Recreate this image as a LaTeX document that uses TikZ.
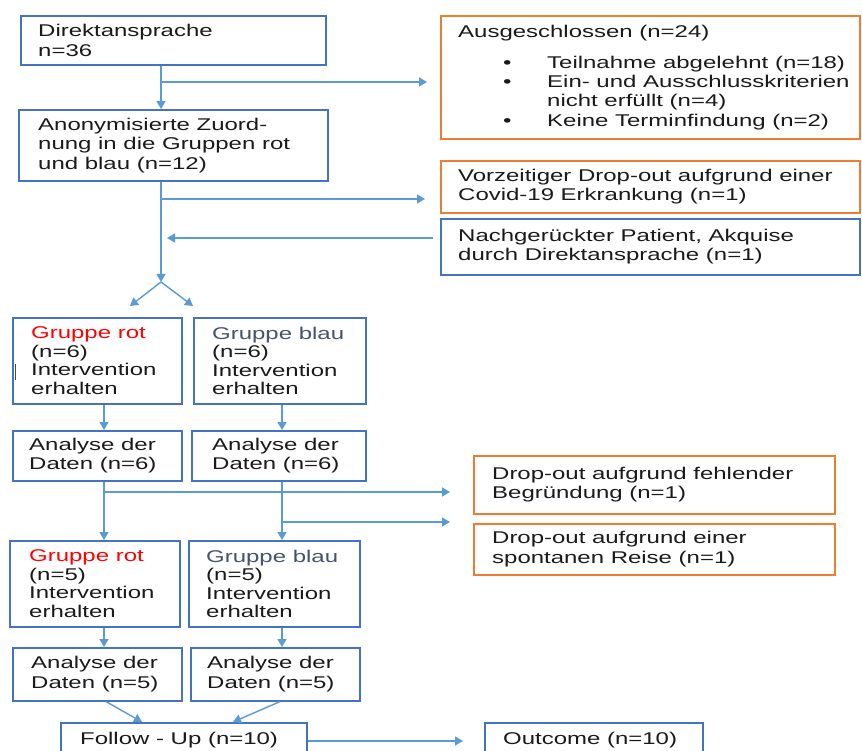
\documentclass[tikz,border=0pt]{standalone}
\usepackage{fontspec}
\setmainfont{Liberation Sans}[FakeStretch=1.41]
\usetikzlibrary{arrows.meta}
\definecolor{boxblue}{HTML}{4472C4}
\definecolor{lineblue}{HTML}{5B9BD5}
\definecolor{boxorange}{HTML}{ED7D31}
\definecolor{txt}{HTML}{1A1A1A}
\definecolor{grpred}{HTML}{FF0000}
\definecolor{grpblue}{HTML}{44546A}
\begin{document}
\begin{tikzpicture}[x=1pt,y=-1pt,
  bbox/.style={draw=boxblue,line width=1.6pt,anchor=north west,inner sep=0pt},
  obox/.style={draw=boxorange,line width=1.6pt,anchor=north west,inner sep=0pt},
  txtnode/.style={anchor=west,align=left,inner sep=0pt,text=txt,font=\fontsize{17}{19.5}\selectfont},
  conn/.style={draw=lineblue,line width=1.4pt},
  arr/.style={conn,-{Triangle[length=8pt,width=9pt]}}]
\useasboundingbox (0,0) rectangle (862,751);
\fill[white] (0,0) rectangle (862,751);

% boxes
\node[bbox,minimum width=305pt,minimum height=49pt] (dir) at (20,15) {};
\node[bbox,minimum width=309pt,minimum height=71pt] (anon) at (18,109) {};
\node[obox,minimum width=419pt,minimum height=123pt] (aus) at (440,15) {};
\node[obox,minimum width=419pt,minimum height=52pt] (vor) at (440,160) {};
\node[bbox,minimum width=419pt,minimum height=56pt] (nach) at (440,218) {};
\node[bbox,minimum width=169pt,minimum height=86pt] (r1) at (12,317) {};
\node[bbox,minimum width=172pt,minimum height=86pt] (b1) at (193,317) {};
\node[bbox,minimum width=169pt,minimum height=50pt] (ar1) at (12,430) {};
\node[bbox,minimum width=174pt,minimum height=50pt] (ab1) at (191,430) {};
\node[obox,minimum width=361pt,minimum height=58pt] (d1) at (473,455) {};
\node[obox,minimum width=361pt,minimum height=51pt] (d2) at (473,523) {};
\node[bbox,minimum width=170pt,minimum height=86pt] (r2) at (9,540) {};
\node[bbox,minimum width=171pt,minimum height=86pt] (b2) at (188,540) {};
\node[bbox,minimum width=169pt,minimum height=53pt] (ar2) at (12,647) {};
\node[bbox,minimum width=169pt,minimum height=53pt] (ab2) at (190,647) {};
\node[bbox,minimum width=246pt,minimum height=35pt] (fu) at (60,722) {};
\node[bbox,minimum width=218pt,minimum height=35pt] (out) at (484,722) {};

% texts
\node[txtnode] (dirT) at ([xshift=18pt]dir.west) {Direktansprache\\n=36};
\node[txtnode] (anonT) at ([xshift=20pt]anon.west) {Anonymisierte Zuord-\\nung in die Gruppen rot\\und blau (n=12)};
\node[txtnode,font=\fontsize{17}{19.4}\selectfont] (ausT) at ([xshift=18pt]aus.west) {Ausgeschlossen (n=24)\\[11.5pt]
\makebox[89pt][l]{\hspace{45pt}\textbullet}Teilnahme abgelehnt (n=18)\\
\makebox[89pt][l]{\hspace{45pt}\textbullet}Ein- und Ausschlusskriterien\\
\hspace*{89pt}nicht erfüllt (n=4)\\
\makebox[89pt][l]{\hspace{45pt}\textbullet}Keine Terminfindung (n=2)};
\node[txtnode] (vorT) at ([xshift=18pt]vor.west) {Vorzeitiger Drop-out aufgrund einer\\Covid-19 Erkrankung (n=1)};
\node[txtnode] (nachT) at ([xshift=18pt]nach.west) {Nachgerückter Patient, Akquise\\durch Direktansprache (n=1)};
\node[txtnode,font=\fontsize{17}{18.5}\selectfont] (r1T) at ([xshift=19pt]r1.west) {\textcolor{grpred}{Gruppe rot}\\(n=6)\\Intervention\\erhalten};
\node[txtnode,font=\fontsize{17}{18.5}\selectfont] (b1T) at ([xshift=19pt]b1.west) {\textcolor{grpblue}{Gruppe blau}\\(n=6)\\Intervention\\erhalten};
\node[txtnode] (ar1T) at ([xshift=17pt]ar1.west) {Analyse der\\Daten (n=6)};
\node[txtnode] (ab1T) at ([xshift=21pt]ab1.west) {Analyse der\\Daten (n=6)};
\node[txtnode] (d1T) at ([xshift=19pt]d1.west) {Drop-out aufgrund fehlender\\Begründung (n=1)};
\node[txtnode] (d2T) at ([xshift=19pt]d2.west) {Drop-out aufgrund einer\\spontanen Reise (n=1)};
\node[txtnode,font=\fontsize{17}{18.5}\selectfont] (r2T) at ([xshift=20pt]r2.west) {\textcolor{grpred}{Gruppe rot}\\(n=5)\\Intervention\\erhalten};
\node[txtnode,font=\fontsize{17}{18.5}\selectfont] (b2T) at ([xshift=18pt]b2.west) {\textcolor{grpblue}{Gruppe blau}\\(n=5)\\Intervention\\erhalten};
\node[txtnode] (ar2T) at ([xshift=19pt]ar2.west) {Analyse der\\Daten (n=5)};
\node[txtnode] (ab2T) at ([xshift=17pt]ab2.west) {Analyse der\\Daten (n=5)};
\node[txtnode] (fuT) at ([xshift=20pt]fu.west) {Follow - Up (n=10)};
\node[txtnode] (outT) at ([xshift=19pt]out.west) {Outcome (n=10)};

% stray cursor mark
\draw[gray!60!black,line width=1pt] (15,364) -- (15,380);

% connectors
\coordinate (xa) at (161,0);
\coordinate (xr) at (104,0);
\coordinate (xb) at (282,0);
\coordinate (br1) at (161,82);
\coordinate (br2) at (161,199);
\coordinate (mg) at (161,238);
\coordinate (split) at (161,282);
\coordinate (sl) at (130,306);
\coordinate (sr) at (193,306);
\coordinate (br3) at (104,492);
\coordinate (br4) at (282,522);
\coordinate (fl) at (142,0);
\coordinate (fr) at (233,0);
\coordinate (al) at (106,0);
\coordinate (ab) at (280,0);
\coordinate (yo) at (0,741);

\draw[arr] (dir.south -| xa) -- (anon.north -| xa);
\draw[arr,shorten >=13pt] (br1) -- (aus.west |- br1);
\draw[arr] (anon.south -| xa) -- (split);
\draw[arr,shorten >=15pt] (br2) -- (vor.west |- br2);
\draw[arr,shorten <=7pt,shorten >=6pt] (nach.west |- mg) -- (mg);
\draw[arr] (split) -- (sl);
\draw[arr] (split) -- (sr);

\draw[arr] (r1.south -| xr) -- (ar1.north -| xr);
\draw[arr] (b1.south -| xb) -- (ab1.north -| xb);
\draw[arr] (ar1.south -| xr) -- (r2.north -| xr);
\draw[arr] (ab1.south -| xb) -- (b2.north -| xb);
\draw[arr,shorten >=23pt] (br3) -- (d1.west |- br3);
\draw[arr,shorten >=23pt] (br4) -- (d2.west |- br4);

\draw[arr] (r2.south -| xr) -- (ar2.north -| xr);
\draw[arr] (b2.south -| xb) -- (ab2.north -| xb);
\draw[arr] (ar2.south -| al) -- (fu.north -| fl);
\draw[arr] (ab2.south -| ab) -- (fu.north -| fr);
\draw[arr,shorten >=21pt] (fu.east |- yo) -- (out.west |- yo);
\end{tikzpicture}
\end{document}
